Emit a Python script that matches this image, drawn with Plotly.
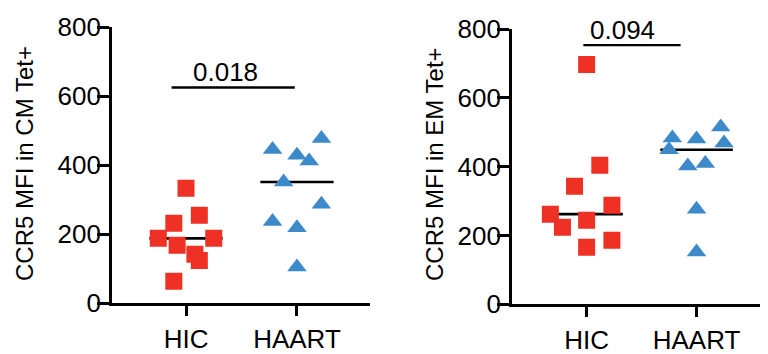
import numpy as np
from plotly import graph_objects as go

groups = ['HIC', 'HAART']

# CCR5 MFI in central memory (CM) Tet+ cells
cm_hic = [333, 255, 232, 188, 188, 168, 142, 124, 64]
cm_hic_jitter = [0, 0.12, -0.11, -0.25, 0.25, -0.08, 0.08, 0.12, -0.11]
cm_haart = [445, 477, 429, 412, 351, 287, 237, 219, 105]
cm_haart_jitter = [-0.22, 0.22, 0, 0.11, -0.12, 0.22, -0.22, 0, 0]

# CCR5 MFI in effector memory (EM) Tet+ cells
em_hic = [697, 404, 343, 288, 262, 224, 244, 186, 166]
em_hic_jitter = [0, 0.12, -0.11, 0.23, -0.33, -0.22, 0, 0.23, 0]
em_haart = [483, 449, 480, 515, 469, 402, 409, 276, 152]
em_haart_jitter = [-0.22, -0.25, 0, 0.22, 0.25, -0.08, 0.08, 0, 0]

pvals = ['0.018', '0.094']
bracket_y = [625, 753]

RED = '#EE3124'
BLUE = '#3D8ACB'
FONT = 'Arial, Liberation Sans, sans-serif'

# page body has an 8px margin, so the figure is a bit smaller than the window
OFF = 8
W, H = 768 - OFF, 354 - OFF


def px_x(p):
    return (p - OFF) / W


def px_y(p):
    return 1 - (p - OFF) / H


fig = go.Figure()


def add_panel(hic, hic_j, haart, haart_j, xa, ya, pval, by, bx, tx):
    # median lines under the points
    for i, vals in enumerate([hic, haart]):
        m = float(np.median(vals))
        fig.add_trace(go.Scatter(x=[i - 0.33, i + 0.33], y=[m, m], mode='lines',
                                 line=dict(color='black', width=2.6),
                                 xaxis=xa, yaxis=ya, showlegend=False, hoverinfo='skip'))
    fig.add_trace(go.Scatter(x=[0 + j for j in hic_j], y=hic, mode='markers',
                             marker=dict(symbol='square', size=17, color=RED, line=dict(width=0)),
                             xaxis=xa, yaxis=ya, showlegend=False))
    fig.add_trace(go.Scatter(x=[1 + j for j in haart_j], y=haart, mode='markers',
                             marker=dict(symbol='triangle-up', size=17, color=BLUE, line=dict(width=0)),
                             xaxis=xa, yaxis=ya, showlegend=False))
    # significance bar
    fig.add_trace(go.Scatter(x=bx, y=[by, by], mode='lines',
                             line=dict(color='black', width=2.4),
                             xaxis=xa, yaxis=ya, showlegend=False, hoverinfo='skip'))
    fig.add_annotation(x=tx, y=by, xref=xa, yref=ya, text=pval, showarrow=False,
                       yanchor='bottom', yshift=-2, font=dict(size=26, color='black'))


add_panel(cm_hic, cm_hic_jitter, cm_haart, cm_haart_jitter, 'x', 'y',
          pvals[0], bracket_y[0], [-0.13, 0.98], 0.36)
add_panel(em_hic, em_hic_jitter, em_haart, em_haart_jitter, 'x2', 'y2',
          pvals[1], bracket_y[1], [-0.03, 0.855], 0.33)

xax = dict(range=[-0.667, 1.658], tickvals=[0, 1], ticktext=groups, automargin=False,
           showline=True, linecolor='black', linewidth=2.6, ticks='outside',
           ticklen=10, tickwidth=2.6, tickcolor='black', showgrid=False, zeroline=False,
           tickfont=dict(size=26, color='black'), ticklabelstandoff=1)
yax = dict(range=[0, 800], tickvals=[0, 200, 400, 600, 800], automargin=False,
           showline=True, linecolor='black', linewidth=2.6, ticks='outside',
           ticklen=12, tickwidth=2.6, tickcolor='black', showgrid=False, zeroline=False,
           tickfont=dict(size=26, color='black'), ticklabelstandoff=-9)

fig.update_layout(
    template='none',
    width=W, height=H,
    margin=dict(l=0, r=0, t=0, b=0, pad=0),
    plot_bgcolor='white', paper_bgcolor='white',
    font=dict(family=FONT, color='black'),
    showlegend=False,
    xaxis=dict(xax, domain=[px_x(112), px_x(370)], anchor='y'),
    yaxis=dict(yax, domain=[px_y(303.3), px_y(27)], anchor='x'),
    xaxis2=dict(xax, range=[-0.679, 1.65], domain=[px_x(512), 1.0], anchor='y2'),
    yaxis2=dict(yax, domain=[px_y(304.3), px_y(29)], anchor='x2'),
)

# y axis titles
for xpos, label in [(24, 'CCR5 MFI in CM Tet+'), (434, 'CCR5 MFI in EM Tet+')]:
    fig.add_annotation(x=px_x(xpos), y=px_y(164), xref='paper', yref='paper', text=label,
                       textangle=-90, showarrow=False, xanchor='center', yanchor='middle',
                       font=dict(size=24, color='black'))

fig.write_html("out.html")
